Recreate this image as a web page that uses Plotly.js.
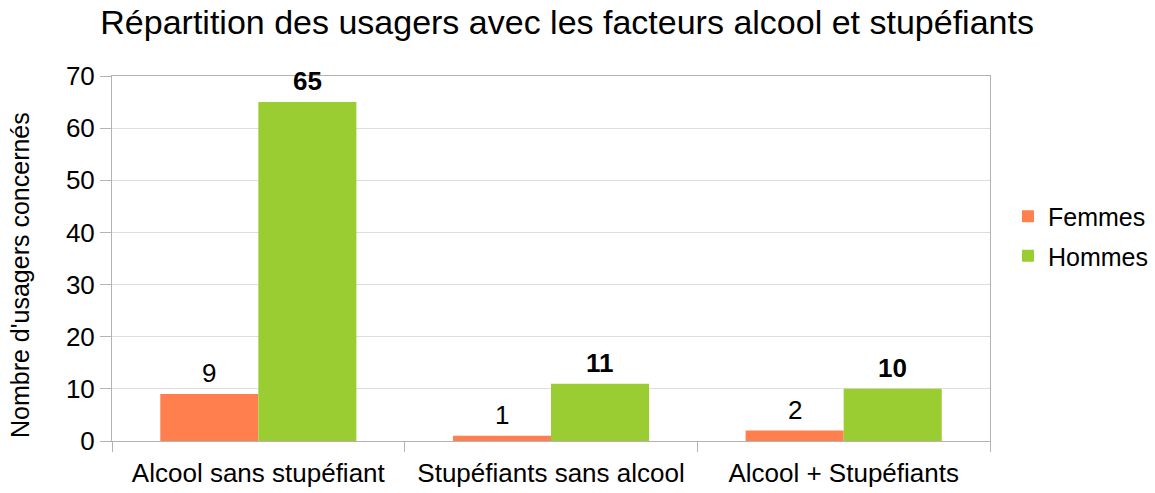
<!DOCTYPE html>
<html>
<head>
<meta charset="utf-8">
<script src="https://cdn.plot.ly/plotly-3.0.1.min.js"></script>
<style>html,body{margin:0;padding:0;background:#fff;}#chart{width:1155px;height:493px;}</style>
</head>
<body>
<div id="chart"></div>
<script>
const categories = ["Alcool sans stupéfiant", "Stupéfiants sans alcool", "Alcool + Stupéfiants"];
const femmes = [9, 1, 2];
const hommes = [65, 11, 10];
const seriesNames = ["Femmes", "Hommes"];
const yTicks = [0, 10, 20, 30, 40, 50, 60, 70];

const font = "Liberation Sans, Arial, sans-serif";
const traces = [
  {type: "bar", name: seriesNames[0], x: categories, y: femmes, marker: {color: "#ff7f4f"}, legendgroup: "f", hoverinfo: "none"},
  {type: "bar", name: seriesNames[1], x: categories, y: hommes, marker: {color: "#9acd32"}, legendgroup: "h", hoverinfo: "none"}
];

const annotations = [];
const barHalf = 49;
femmes.forEach((v, i) => annotations.push({x: categories[i], y: v, xref: "x", yref: "y", text: String(v), showarrow: false, yanchor: "bottom", xshift: -barHalf, yshift: 4, font: {family: font, size: 26, color: "#000"}}));
hommes.forEach((v, i) => annotations.push({x: categories[i], y: v, xref: "x", yref: "y", text: "<b>" + v + "</b>", showarrow: false, yanchor: "bottom", xshift: barHalf, yshift: 4, font: {family: font, size: 26, color: "#000"}}));
annotations.push({xref: "paper", yref: "paper", x: (20 - 112) / 878, y: (441 - 275) / 365, xanchor: "center", yanchor: "middle", textangle: -90, showarrow: false,
  text: "Nombre d'usagers concernés", font: {family: font, size: 25, color: "#000"}});

const layout = {
  width: 1155, height: 493,
  margin: {l: 112, r: 165, t: 76, b: 52, autoexpand: false},
  paper_bgcolor: "#fff", plot_bgcolor: "#fff",
  font: {family: font, color: "#000"},
  title: {text: "Répartition des usagers avec les facteurs alcool et stupéfiants", font: {family: font, size: 34, color: "#000"}, x: 0.491, xanchor: "center", y: 0.955, yanchor: "middle", xref: "container", yref: "container"},
  barmode: "group", bargap: 0.33, bargroupgap: 0,
  xaxis: {type: "category", tickson: "boundaries", ticks: "outside", ticklen: 10, tickcolor: "#b3b3b3", tickwidth: 1,
          showline: true, linecolor: "#b3b3b3", mirror: true, showgrid: false, ticklabelstandoff: 9,
          tickfont: {family: font, size: 26, color: "#000"}, fixedrange: true},
  yaxis: {range: [0, 70], tickvals: yTicks, ticks: "outside", ticklen: 11, tickcolor: "#b3b3b3",
          showline: true, linecolor: "#b3b3b3", mirror: true, gridcolor: "#dddddd", zeroline: false,
          tickfont: {family: font, size: 26, color: "#000"}},
  legend: {xref: "container", yref: "container", x: 0.8727, xanchor: "left", y: 1 - 236 / 493, yanchor: "middle", font: {family: font, size: 25, color: "#000"}, tracegroupgap: 4, traceorder: "grouped"},
  annotations: annotations,
  showlegend: true
};
Plotly.newPlot("chart", traces, layout, {displayModeBar: false, staticPlot: true});
</script>
</body>
</html>
